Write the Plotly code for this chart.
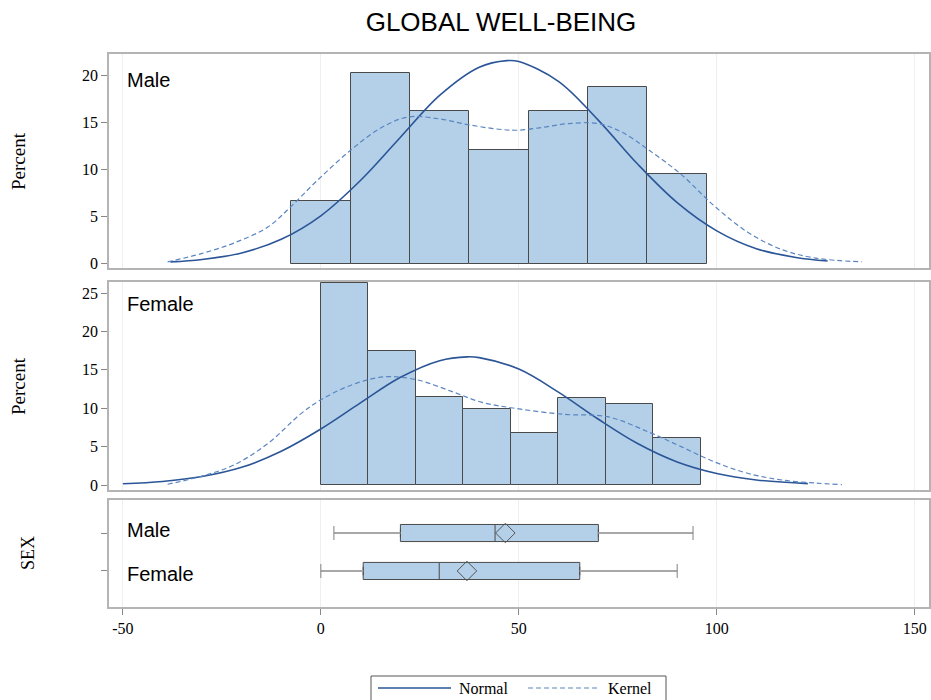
import plotly.graph_objects as go

# ---------------- data ----------------
male_bin_mid = [0, 15, 30, 45, 60, 75, 90]
male_pct = [6.7, 20.3, 16.2, 12.1, 16.2, 18.8, 9.5]
female_bin_mid = [6, 18, 30, 42, 54, 66, 78, 90]
female_pct = [26.3, 17.4, 11.5, 9.9, 6.8, 11.4, 10.5, 6.1]

male_normal_x = [-38, -30, -20, -10, 0, 10, 20, 30, 40, 47, 50, 60, 70, 80, 90, 100, 110, 120, 128]
male_normal_y = [0.2, 0.46, 1.15, 2.6, 5.1, 8.85, 13.4, 17.9, 20.9, 21.6, 21.5, 19.4, 15.3, 10.6, 6.5, 3.5, 1.6, 0.67, 0.3]
male_kernel_x = [-38.7, -30, -22, -13.4, -7.5, -0.8, 7.6, 15, 22, 30, 37, 45, 50, 56, 62.5, 70, 76, 82.8, 91, 99.5, 108, 116.5, 125, 136.7]
male_kernel_y = [0.2, 1.1, 2.2, 3.9, 6.1, 8.9, 12.1, 14.4, 15.6, 15.4, 14.8, 14.3, 14.2, 14.5, 14.9, 14.9, 14.0, 12.1, 9.5, 6.1, 3.3, 1.5, 0.6, 0.2]

female_normal_x = [-50, -40, -30, -20, -10, 0, 10, 20, 30, 37, 40, 50, 60, 70, 80, 90, 100, 110, 123]
female_normal_y = [0.17, 0.46, 1.1, 2.3, 4.4, 7.3, 10.7, 14.0, 16.2, 16.7, 16.6, 15.1, 12.1, 8.6, 5.4, 3.0, 1.5, 0.66, 0.18]
female_kernel_x = [-38.7, -30.4, -22, -13.4, -5, 0, 7.6, 16, 24.3, 33, 40.5, 48.9, 61.5, 72.4, 82.8, 91, 99.5, 108, 116.5, 125, 131.6]
female_kernel_y = [0.1, 1.1, 2.6, 5.4, 9.3, 11.1, 13.0, 14.1, 13.7, 12.2, 10.8, 10.0, 9.2, 8.9, 6.9, 5.0, 3.0, 1.5, 0.65, 0.25, 0.05]

sex_groups = ["Female", "Male"]
box_min = [0.0, 3.3]
box_q1 = [10.7, 20.1]
box_median = [29.9, 44.0]
box_q3 = [65.4, 70.1]
box_max = [90.0, 94.0]
box_mean = [36.9, 46.6]

x_ticks = [-50, 0, 50, 100, 150]
x_tick_labels = ["-50", "0", "50", "100", "150"]
legend_labels = ["Normal", "Kernel"]

# ---------------- styles ----------------
BAR_FILL = "#b3d0e8"
BAR_LINE = "#4a4a4a"
NORMAL_C = "#2b5597"
KERNEL_C = "#5a85c0"
FRAME = "#b4b4b4"
SERIF = "Liberation Serif, Times New Roman, serif"
SANS = "Liberation Sans, Arial, sans-serif"

L, R, T, B = 109, 2, 54, 93
W, H = 931, 700
W_PLOT = W - L - R
H_PLOT = H - T - B


def px_x(p):
    return (p - L) / W_PLOT


def px_y(p):
    return (H - B - p) / H_PLOT


fig = go.Figure()

# Male histogram
fig.add_trace(go.Bar(x=male_bin_mid, y=male_pct, width=15, marker=dict(color=BAR_FILL, line=dict(color=BAR_LINE, width=1)),
                     xaxis="x", yaxis="y", showlegend=False, hoverinfo="skip"))
fig.add_trace(go.Scatter(x=male_normal_x, y=male_normal_y, mode="lines", line=dict(color=NORMAL_C, width=1.6, shape="spline"),
                         xaxis="x", yaxis="y", name="Normal", showlegend=False))
fig.add_trace(go.Scatter(x=male_kernel_x, y=male_kernel_y, mode="lines", line=dict(color=KERNEL_C, width=1.2, dash="5px,3px", shape="spline"),
                         xaxis="x", yaxis="y", name="Kernel", showlegend=False))

# Female histogram
fig.add_trace(go.Bar(x=female_bin_mid, y=female_pct, width=12, marker=dict(color=BAR_FILL, line=dict(color=BAR_LINE, width=1)),
                     xaxis="x2", yaxis="y2", showlegend=False, hoverinfo="skip"))
fig.add_trace(go.Scatter(x=female_normal_x, y=female_normal_y, mode="lines", line=dict(color=NORMAL_C, width=1.6, shape="spline"),
                         xaxis="x2", yaxis="y2", showlegend=False))
fig.add_trace(go.Scatter(x=female_kernel_x, y=female_kernel_y, mode="lines", line=dict(color=KERNEL_C, width=1.2, dash="5px,3px", shape="spline"),
                         xaxis="x2", yaxis="y2", showlegend=False))

# Box plot panel: whiskers
for i, g in enumerate(sex_groups):
    fig.add_trace(go.Scatter(x=[box_min[i], box_q1[i]], y=[i, i], mode="lines", line=dict(color="#a8a8a8", width=2),
                             xaxis="x3", yaxis="y3", showlegend=False, hoverinfo="skip"))
    fig.add_trace(go.Scatter(x=[box_q3[i], box_max[i]], y=[i, i], mode="lines", line=dict(color="#a8a8a8", width=2),
                             xaxis="x3", yaxis="y3", showlegend=False, hoverinfo="skip"))
    fig.add_trace(go.Scatter(x=[box_min[i], box_max[i]], y=[i, i], mode="markers",
                             marker=dict(symbol="line-ns-open", size=10, color="#808080", line=dict(color="#808080", width=1)),
                             xaxis="x3", yaxis="y3", showlegend=False, hoverinfo="skip", cliponaxis=False))

fig.add_trace(go.Box(y=[0, 1], q1=box_q1, median=box_median, q3=box_q3, lowerfence=box_q1, upperfence=box_q3,
                     orientation="h", fillcolor=BAR_FILL, line=dict(color=BAR_LINE, width=1), width=0.45,
                     xaxis="x3", yaxis="y3", showlegend=False, hoverinfo="skip", boxpoints=False))
fig.add_trace(go.Scatter(x=box_mean, y=[0, 1], mode="markers",
                         marker=dict(symbol="diamond-open", size=15, color="#555555", line=dict(width=1)),
                         xaxis="x3", yaxis="y3", showlegend=False, hoverinfo="skip"))

x_common = dict(range=[-53.5, 153.6], showgrid=True, gridcolor="#efefef", gridwidth=1, zeroline=False,
                showline=True, mirror=True, linecolor=FRAME, linewidth=1.5, tickvals=x_ticks, ticktext=x_tick_labels,
                automargin=False)
y_common = dict(showgrid=False, zeroline=False, showline=True, mirror=True, linecolor=FRAME, linewidth=1.5,
                ticks="outside", ticklen=6, tickcolor="#888888", automargin=False,
                tickfont=dict(family=SERIF, size=16, color="#000"))

ann_font = dict(family=SANS, size=20, color="#000")

annotations = [
    dict(text="Male", x=-49.5, y=px_y(80), xref="x", yref="paper", xanchor="left", yanchor="middle",
         showarrow=False, font=ann_font),
    dict(text="Female", x=-49.5, y=px_y(304), xref="x", yref="paper", xanchor="left", yanchor="middle",
         showarrow=False, font=ann_font),
    dict(text="Male", x=-49.5, y=1, xref="x3", yref="y3", xanchor="left", yanchor="middle", yshift=3,
         showarrow=False, font=ann_font),
    dict(text="Female", x=-49.5, y=0, xref="x3", yref="y3", xanchor="left", yanchor="middle", yshift=-3,
         showarrow=False, font=ann_font),
    dict(text="Percent", x=px_x(18), y=px_y(161), xref="paper", yref="paper", showarrow=False, textangle=-90,
         xanchor="center", yanchor="middle", font=dict(family=SERIF, size=19, color="#000")),
    dict(text="Percent", x=px_x(18), y=px_y(386), xref="paper", yref="paper", showarrow=False, textangle=-90,
         xanchor="center", yanchor="middle", font=dict(family=SERIF, size=19, color="#000")),
    dict(text="SEX", x=px_x(28), y=px_y(553), xref="paper", yref="paper", showarrow=False, textangle=-90,
         xanchor="center", yanchor="middle", font=dict(family=SERIF, size=18, color="#000")),
    # legend texts
    dict(text=legend_labels[0], x=px_x(457), y=px_y(688), xref="paper", yref="paper", showarrow=False,
         xanchor="left", yanchor="middle", font=dict(family=SERIF, size=16, color="#000")),
    dict(text=legend_labels[1], x=px_x(606), y=px_y(688), xref="paper", yref="paper", showarrow=False,
         xanchor="left", yanchor="middle", font=dict(family=SERIF, size=16, color="#000")),
]

shapes = [
    dict(type="rect", xref="paper", yref="paper", x0=px_x(371), x1=px_x(666), y0=px_y(676), y1=px_y(701),
         line=dict(color="#555555", width=1), fillcolor="rgba(0,0,0,0)"),
    dict(type="line", xref="paper", yref="paper", x0=px_x(378), x1=px_x(451), y0=px_y(688), y1=px_y(688),
         line=dict(color=NORMAL_C, width=1.6)),
    dict(type="line", xref="paper", yref="paper", x0=px_x(528), x1=px_x(600), y0=px_y(688), y1=px_y(688),
         line=dict(color=KERNEL_C, width=1.2, dash="5px,3px")),
]

fig.update_layout(
    width=W, height=H,
    margin=dict(l=L, r=R, t=T, b=B, autoexpand=False),
    paper_bgcolor="white", plot_bgcolor="white",
    bargap=0, showlegend=False,
    title=dict(text="GLOBAL WELL-BEING", x=501 / W, xref="container", y=1 - 22 / H, yref="container",
               xanchor="center", yanchor="middle",
               font=dict(family=SANS, size=26, color="#000")),
    xaxis=dict(**x_common, domain=[0, 1], anchor="y", showticklabels=False),
    xaxis2=dict(**x_common, domain=[0, 1], anchor="y2", showticklabels=False, matches="x"),
    xaxis3=dict(**x_common, domain=[0, 1], anchor="y3", matches="x", ticks="outside", ticklen=6, tickcolor="#888888",
                tickfont=dict(family=SERIF, size=16, color="#000"), showticklabels=True),
    yaxis=dict(**y_common, domain=[px_y(268), px_y(54)], range=[-0.45, 22.3], tickvals=[0, 5, 10, 15, 20]),
    yaxis2=dict(**y_common, domain=[px_y(490), px_y(282)], range=[-0.65, 26.45], tickvals=[0, 5, 10, 15, 20, 25]),
    yaxis3=dict(**y_common, domain=[0, px_y(500)], range=[-0.95, 1.87], tickvals=[0, 1], ticktext=["", ""]),
    annotations=annotations,
    shapes=shapes,
)

fig.write_html("out.html", config={"displayModeBar": False},
               post_script="document.body.style.margin='0';document.body.style.overflow='hidden';")
